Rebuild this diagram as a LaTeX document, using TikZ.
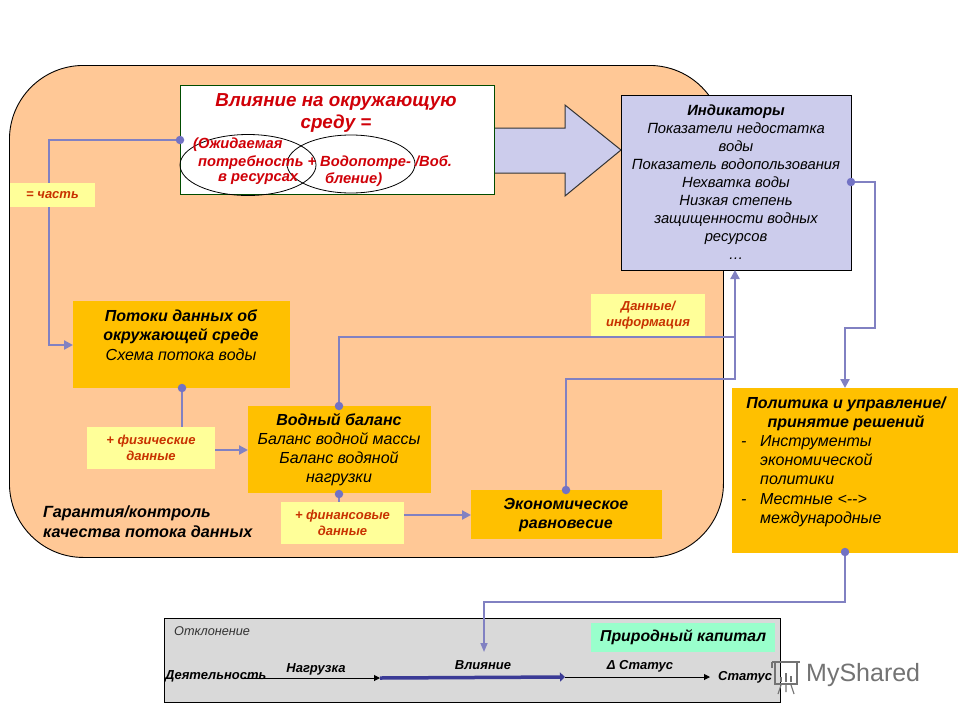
\documentclass[tikz,border=0pt]{standalone}
\usepackage{fontspec}
\setmainfont{Liberation Sans}
\usetikzlibrary{arrows.meta,calc}
\definecolor{peach}{HTML}{FFC896}
\definecolor{amber}{HTML}{FFC000}
\definecolor{lilac}{HTML}{CCCCEC}
\definecolor{link}{HTML}{8181C2}
\definecolor{dotc}{HTML}{7272C4}
\definecolor{paley}{HTML}{FFFF99}
\definecolor{redt}{HTML}{D00008}
\definecolor{labt}{HTML}{C83200}
\definecolor{mint}{HTML}{99FFCC}
\definecolor{grayb}{HTML}{D9D9D9}
\definecolor{navy}{HTML}{3B3B96}
\tikzset{
  x=1pt,y=-1pt,
  amberbox/.style={fill=amber,inner sep=0pt,outer sep=0pt},
  notebox/.style={fill=paley,inner sep=0pt,outer sep=0pt},
  notetext/.style={font=\fontsize{13}{16.5}\selectfont\bfseries\itshape,text=labt,inner sep=0pt,align=center},
  conn/.style={draw=link,line width=2.4pt},
  connarrow/.style={conn,-{Triangle[length=9pt,width=9pt,fill=link]}},
  dotm/.style={circle,fill=dotc,inner sep=0pt,minimum size=8.5pt},
  note/.style={font=\fontsize{13}{15}\selectfont\itshape\bfseries,inner sep=0pt},
  redline/.style={font=\fontsize{14.7}{17}\selectfont\bfseries\itshape,text=redt,inner sep=0pt},
}
\newcommand{\dashitem}{\makebox[19pt][l]{-}}
\newcommand{\noitem}{\makebox[19pt][l]{}}
\begin{document}
\begin{tikzpicture}
\useasboundingbox (0,0) rectangle (960,720);
\fill[white] (0,0) rectangle (960,720);
% background panel
\node[draw=black,fill=peach,line width=0.9pt,rounded corners=74pt,inner sep=0pt,minimum width=714pt,minimum height=492pt,anchor=north west] (panel) at (9,65) {};

% big arrow
\coordinate (arA) at (494,128);
\draw[fill=lilac,draw=black!80,line width=1pt] (arA) -- (565,128) -- (565,105) -- (621,150) -- (565,196) -- (565,173) -- (494,173);

% impact box
\node[draw=black!50!green!60!black,fill=white,line width=0.8pt,inner sep=0pt,minimum width=314pt,minimum height=109pt,anchor=north west] (impact) at (180,85) {};
\node[inner sep=0pt,text=redt,align=center,font=\fontsize{18.8}{21.5}\selectfont\bfseries\itshape] (impactT) at (336,113) {Влияние на окружающую\\среду =};
\draw[black,line width=0.8pt] (248,165) ellipse [x radius=68,y radius=30.5];
\draw[black,line width=0.8pt] (351,164) ellipse [x radius=64,y radius=29];
\node[redline,anchor=west] (i1) at (193,145) {(Ожидаемая};
\node[redline,anchor=west] (i2) at (198,163) {потребность + Водопотре-  /Воб.};
\node[redline,anchor=west] (i3) at (218,179.5) {в ресурсах};
\node[redline,anchor=west] (i4) at (325,179.5) {бление)};

% indicators
\node[draw=black,fill=lilac,line width=0.8pt,inner sep=0pt,minimum width=230pt,minimum height=175pt,anchor=north west] (ind) at (621,95) {};
\node[inner sep=0pt,align=center,font=\fontsize{14.8}{18}\selectfont\itshape] (indT) at (736,182) {\textbf{Индикаторы}\\Показатели недостатка\\воды\\Показатель водопользования\\Нехватка воды\\Низкая степень\\защищенности водных\\ресурсов\\…};

% flow box
\node[amberbox,minimum width=217pt,minimum height=87pt,anchor=north west] (flow) at (73,301) {};
\node[inner sep=0pt,align=center,font=\fontsize{16}{19.5}\selectfont\itshape] (flowT) at (181,335) {\textbf{Потоки данных об}\\\textbf{окружающей среде}\\Схема потока воды};

% water box
\node[amberbox,minimum width=183pt,minimum height=87pt,anchor=north west] (water) at (248,406) {};
\node[inner sep=0pt,align=center,font=\fontsize{16}{19}\selectfont\itshape] (waterT) at (339,450) {\textbf{Водный баланс}\\Баланс водной массы\\Баланс водяной\\нагрузки};

% economic box
\node[amberbox,minimum width=191pt,minimum height=49pt,anchor=north west] (econ) at (471,490) {};
\node[inner sep=0pt,align=center,font=\fontsize{16}{19}\selectfont\bfseries\itshape] (econT) at (566,515.5) {Экономическое\\равновесие};

% policy box
\node[amberbox,minimum width=226pt,minimum height=165pt,anchor=north west] (policy) at (732,388) {};
\node[inner sep=0pt,align=center,font=\fontsize{16}{19.5}\selectfont\bfseries\itshape] (policyT) at (846,414) {Политика и управление/\\принятие решений};
\node[inner sep=0pt,align=left,anchor=north west,font=\fontsize{16}{19.3}\selectfont\itshape] (policyL) at (741,435) {\dashitem Инструменты\\\noitem экономической\\\noitem политики\\\dashitem Местные <-{}->\\\noitem международные};

% note boxes
\node[notebox,minimum width=128pt,minimum height=42pt,anchor=north west] (phys) at (87,427) {};
\node[notebox,minimum width=123pt,minimum height=42pt,anchor=north west] (fin) at (281,502) {};
\node[notebox,minimum width=114pt,minimum height=42pt,anchor=north west] (data) at (591,294) {};

% connectors
\coordinate (c1a) at (49,140);
\coordinate (c1b) at (49,345);
\coordinate (impW) at (180,140);
\coordinate (flowW) at (73,345);
\draw[connarrow] (impW) -- (c1a) -- (c1b) -- (flowW);
\node[dotm] (dImp) at (impW) {};
\node[notebox,minimum width=85pt,minimum height=24pt,anchor=north west] (part) at (10,183) {};

\coordinate (flowS) at (182,388);
\coordinate (physN) at (182,427);
\draw[conn] (flowS) -- (physN);
\node[dotm] (dFlow) at (flowS) {};

\coordinate (physE) at (215,450);
\coordinate (waterW) at (248,450);
\draw[connarrow] (physE) -- (waterW);

\coordinate (waterN) at (339,406);
\coordinate (c2a) at (339,337);
\coordinate (c2b) at (735,337);
\coordinate (indS) at (735,270);
\draw[conn] (waterN) -- (c2a) -- (c2b);
\node[dotm] (dWaterN) at (waterN) {};

\coordinate (econN) at (566,490);
\coordinate (c3a) at (566,379);
\coordinate (c3b) at (735,379);
\draw[connarrow] (econN) -- (c3a) -- (c3b) -- (indS);
\node[dotm] (dEcon) at (econN) {};

\coordinate (waterS) at (339,494);
\coordinate (finN) at (339,502);
\draw[conn] (waterS) -- (finN);
\node[dotm] (dWaterS) at (waterS) {};

\coordinate (finE) at (404,515);
\coordinate (econW) at (471,515);
\draw[connarrow] (finE) -- (econW);

\coordinate (indE) at (851,182);
\coordinate (c4a) at (875,182);
\coordinate (c4b) at (875,328);
\coordinate (c4c) at (845,328);
\coordinate (polN) at (845,388);
\draw[connarrow] (indE) -- (c4a) -- (c4b) -- (c4c) -- (polN);
\node[dotm] (dInd) at (indE) {};

% bottom panel
\node[draw=black,fill=grayb,line width=0.8pt,inner sep=0pt,minimum width=616pt,minimum height=84pt,anchor=north west] (cap) at (164,618) {};
\node[fill=mint,inner sep=0pt,minimum width=184pt,minimum height=29pt,anchor=north west,font=\fontsize{15.8}{18}\selectfont\bfseries\itshape] (nat) at (591,623) {Природный капитал};

\coordinate (polS) at (845,552);
\coordinate (c5a) at (845,602);
\coordinate (c5b) at (484,602);
\coordinate (capP) at (484,652);
\draw[link,line width=1.6pt,-{Triangle[length=9pt,width=7pt,fill=link]}] (polS) -- (c5a) -- (c5b) -- (capP);
\node[dotm] (dPol) at (polS) {};

% note texts
\node[notetext] at (part) {= часть};
\node[notetext] at (phys) {+ физические\\данные};
\node[notetext] at (fin) {+ финансовые\\данные};
\node[notetext] at (data) {Данные/\\информация};

% QA text
\node[inner sep=0pt,align=left,anchor=west,font=\fontsize{16.2}{20}\selectfont\bfseries\itshape] (qa) at (43,522) {Гарантия/контроль\\качества  потока данных};

% bottom texts
\node[inner sep=0pt,anchor=west,text=black!80,font=\fontsize{12.7}{15}\selectfont\itshape] (dev) at (174,631) {Отклонение};
\node[note,anchor=west] (act) at (165,676) {Деятельность};
\node[note] (load) at (316,669) {Нагрузка};
\node[note] (infl) at (483,665) {Влияние};
\node[note] (dst) at (640,666) {Δ Статус};
\node[note,anchor=west] (st) at (718,677) {Статус};
\coordinate (l1) at (243,678);
\coordinate (l2) at (380,678);
\coordinate (l3) at (565,677);
\coordinate (l4) at (710,677);
\draw[black,line width=1pt,-{Triangle[length=6pt,width=6pt]}] (l1) -- (l2);
\draw[navy,line width=3.5pt,-{Triangle[length=5pt,width=9pt]}] (l2) -- (l3);
\draw[black,line width=1pt,-{Triangle[length=6pt,width=6pt]}] (l3) -- (l4);

% watermark
\begin{scope}[draw=black!55,line width=1.1pt]
\draw (772,662) -- (800,662) (772,662) -- (772,668) (775,662) -- (775,684) -- (797,684) -- (797,662);
\draw[line width=2pt] (781,682) -- (781,677) (786,682) -- (786,673) (791,682) -- (791,676);
\draw (781,685) -- (778,694) (791,685) -- (794,694) (786,685) -- (786,692);
\end{scope}
\node[inner sep=0pt,anchor=west,text=black!55,font=\fontsize{25}{28}\selectfont] (wm) at (806,675) {MyShared};
\end{tikzpicture}
\end{document}
